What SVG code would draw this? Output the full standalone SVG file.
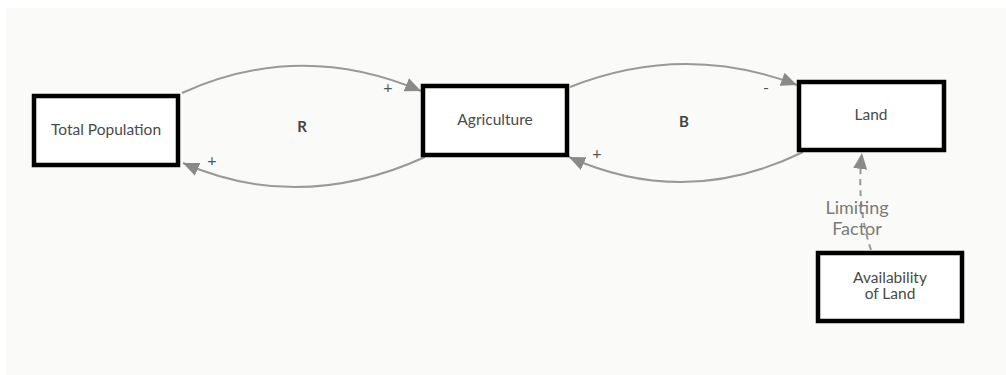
<svg xmlns="http://www.w3.org/2000/svg" width="1006" height="375" viewBox="0 0 1006 375">
  <style>
    .box { fill: #ffffff; stroke: #000000; stroke-width: 4.5; }
    .label { font-family: Lato, "Liberation Sans", sans-serif; font-size: 15.5px; fill: #4a4a4a; text-anchor: middle; }
    .loop { font-family: Lato, "Liberation Sans", sans-serif; font-size: 15px; font-weight: bold; fill: #444444; text-anchor: middle; }
    .sign { font-family: Lato, "Liberation Sans", sans-serif; font-size: 16px; fill: #555555; text-anchor: middle; }
    .link { fill: none; stroke: #999999; stroke-width: 2; marker-end: url(#head); }
    .dashed { stroke-dasharray: 6 5; }
    .factor { font-family: Lato, "Liberation Sans", sans-serif; font-size: 18px; fill: #7a7a7a; text-anchor: middle; }
  </style>
  <defs>
    <marker id="head" markerUnits="userSpaceOnUse" markerWidth="17" markerHeight="14" refX="16" refY="7" orient="auto">
      <path d="M0,0 L16,7 L0,14 z" fill="#8a8a8a"/>
    </marker>
  </defs>

  <!-- canvas -->
  <rect x="6" y="8" width="1000" height="367" fill="#fafaf8"/>

  <!-- links between the stocks -->
  <g id="connectors">
    <path class="link" d="M182,93 Q300,39.5 421,91"/>
    <path class="link" d="M425,157 Q300,214 183,163"/>
    <path class="link" d="M570,87 Q684,42 797,85"/>
    <path class="link" d="M803,152 Q686,209.5 569,157"/>
    <path class="link dashed" d="M871,250 Q856,205 862,153"/>
    <text class="sign" x="388" y="93">+</text>
    <text class="sign" x="212" y="166">+</text>
    <text class="sign" x="766" y="93">-</text>
    <text class="sign" x="597" y="159">+</text>
    <text class="loop" x="302" y="132">R</text>
    <text class="loop" x="684" y="127">B</text>
    <text class="factor" x="857" y="214">Limiting</text>
    <text class="factor" x="857" y="235">Factor</text>
  </g>

  <g id="total-population">
    <rect class="box" x="34" y="96" width="144" height="69"/>
    <text class="label" x="106" y="135">Total Population</text>
  </g>

  <g id="agriculture">
    <rect class="box" x="423" y="86" width="144" height="69"/>
    <text class="label" x="495" y="125">Agriculture</text>
  </g>

  <g id="land">
    <rect class="box" x="799" y="82" width="145" height="68"/>
    <text class="label" x="871" y="120">Land</text>
  </g>

  <g id="availability-of-land">
    <rect class="box" x="818" y="253" width="144" height="68"/>
    <text class="label" x="890" y="283">Availability</text>
    <text class="label" x="890" y="299">of Land</text>
  </g>
</svg>
